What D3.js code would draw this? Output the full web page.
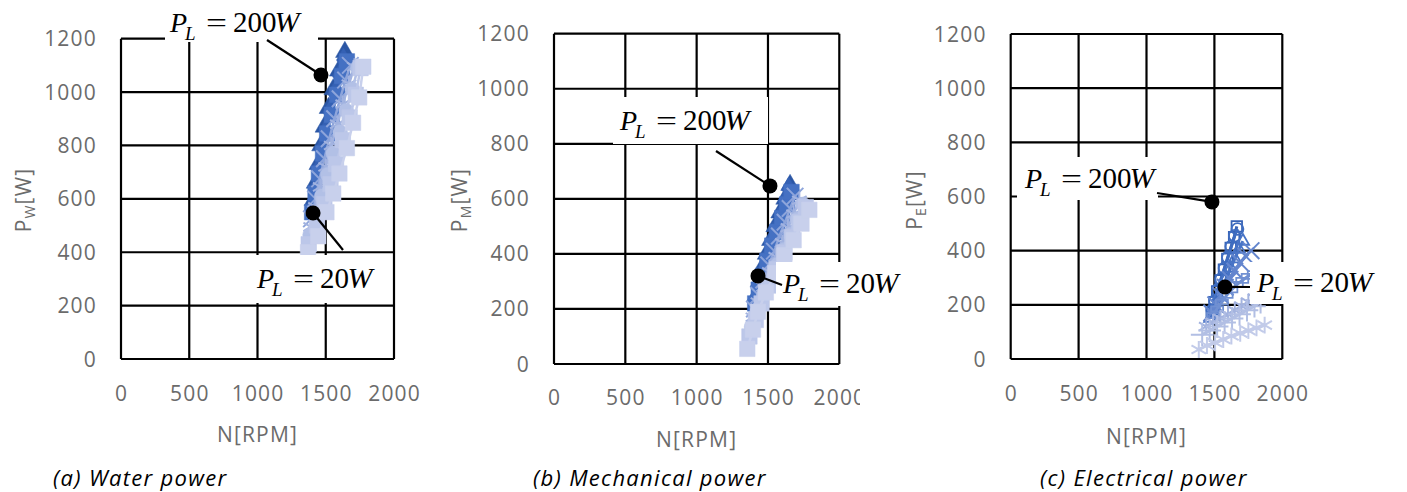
<!DOCTYPE html>
<html><head><meta charset="utf-8">
<script src="https://cdn.jsdelivr.net/npm/d3@7"></script>
<style>
body{margin:0;background:#fff;}
svg text{font-family:"Open Sans",sans-serif;}
</style></head><body>
<svg id="c" width="1407" height="492"></svg>
<script>
// ---------------- data ----------------
const xTicks = [0, 500, 1000, 1500, 2000];
const yTicks = [0, 200, 400, 600, 800, 1000, 1200];
const seriesNames = ["S1", "S2", "S3", "S4", "S5", "S6", "S7", "S8"];

// (a) water power
const waterN = [
  [1410,1425,1445,1465,1490,1520,1555,1595,1640],
  [1405,1425,1445,1470,1500,1530,1565,1600,1630],
  [1400,1425,1450,1480,1510,1545,1585,1620,1655],
  [1395,1425,1455,1490,1525,1565,1605,1645,1680],
  [1390,1425,1460,1500,1540,1585,1625,1670,1710],
  [1385,1430,1470,1515,1555,1605,1650,1695,1735],
  [1375,1435,1490,1535,1575,1625,1675,1720,1755],
  [1370,1445,1505,1555,1600,1655,1700,1745,1775]
];
const waterP = [
  [595,660,730,800,870,940,1010,1080,1150],
  [570,640,710,785,855,925,995,1060,1120],
  [550,620,695,770,845,915,990,1060,1115],
  [525,600,675,750,825,900,975,1045,1100],
  [495,570,645,720,800,880,955,1030,1095],
  [465,535,610,690,770,850,930,1010,1090],
  [430,500,580,655,730,820,905,990,1090],
  [400,460,550,620,695,790,885,980,1095]
];
// (b) mechanical power
const mechN = [
  [1420,1440,1460,1490,1520,1550,1585,1620,1655],
  [1415,1435,1460,1490,1520,1555,1590,1620,1645],
  [1410,1435,1465,1495,1530,1565,1600,1635,1665],
  [1405,1435,1470,1505,1545,1580,1620,1655,1690],
  [1395,1430,1470,1510,1555,1600,1640,1680,1720],
  [1385,1425,1470,1520,1565,1615,1660,1705,1745],
  [1370,1415,1455,1505,1560,1615,1670,1720,1765],
  [1355,1395,1430,1485,1550,1615,1680,1735,1790]
];
const mechP = [
  [250,300,350,400,450,500,550,600,650],
  [235,285,335,385,440,490,540,590,635],
  [220,270,320,375,430,480,530,580,625],
  [200,250,305,360,410,465,515,565,610],
  [170,225,280,335,390,440,495,545,595],
  [135,190,250,305,360,415,470,525,580],
  [100,160,220,285,345,405,460,515,570],
  [55,125,190,260,330,395,450,510,560]
];
// (c) electrical power
const elecN = [
  [1480,1500,1520,1545,1570,1595,1620,1645,1665],
  [1485,1505,1525,1550,1575,1600,1625,1650,1670],
  [1470,1500,1530,1560,1590,1620,1650,1680,1710],
  [1480,1510,1545,1580,1615,1650,1690,1730,1770],
  [1490,1520,1555,1590,1625,1665,1705,1745,1790],
  [1440,1490,1545,1600,1650,1700,1750,1800,1850],
  [1410,1465,1520,1575,1630,1685,1740,1795,1840],
  [1385,1445,1505,1565,1625,1690,1750,1810,1870]
];
const elecP = [
  [170,210,250,290,330,370,410,450,490],
  [180,215,255,295,335,375,415,455,480],
  [150,190,230,265,300,335,370,405,435],
  [170,200,235,265,295,325,355,380,400],
  [160,185,210,235,255,275,290,305,315],
  [120,135,150,165,180,195,210,225,240],
  [90,105,120,135,150,165,180,195,210],
  [35,50,60,72,85,95,105,115,125]
];
// annotation anchor points [N, P] for P_L = 200W and P_L = 20W
const annotLoads = ["200", "20"];
const waterMarks = [[1465,1064],[1407,547]];
const mechMarks  = [[1514,647],[1430,320]];
const elecMarks  = [[1482,580],[1578,266]];

// ---------------- styles ----------------
const colorsAB = ["#2B56A4","#3561B4","#4571C3","#8EA5DB","#A2B3E0","#B2C0E6","#BCC7E9","#C8D0EC"];
const shapesAB = ["triangle","diamond","square","times","asterisk","circle","square","square"];
const colorsC  = ["#3763B6","#3F6DC0","#4874C6","#6486CE","#7090D2","#A3B3DF","#B2BFE4","#C2CBE9"];
const shapesC  = ["square","circle","triangle","times","dash","asterisk","plus","asterisk"];

const svg = d3.select("#c");
const GREY = "#6b6b6b";

function symbolPath(shape, filled) {
  switch (shape) {
    case "triangle": return d3.symbol(filled ? d3.symbolTriangle : d3.symbolTriangle2, filled ? 150 : 110)();
    case "diamond":  return d3.symbol(d3.symbolDiamond, 170)();
    case "square":   return d3.symbol(filled ? d3.symbolSquare : d3.symbolSquare2, filled ? 240 : 140)();
    case "circle":   return d3.symbol(d3.symbolCircle, filled ? 170 : 110)();
    case "times":    return d3.symbol(d3.symbolTimes, 180)();
    case "asterisk": return d3.symbol(d3.symbolAsterisk, 200)();
    case "plus":     return d3.symbol(d3.symbolPlus, 170)();
    case "dash":     return "M-6,-2.5h12v5h-12z";
  }
}
const strokeOnly = s => ["times","asterisk","plus"].includes(s);

const panels = [
  {x0:121, x1:394, yT:38.7, yB:359, N:waterN, P:waterP, marks:waterMarks, sub:"W",
   colors:colorsAB, shapes:shapesAB, filled:true, xtY:401, xtitleY:442, titleX:31, caption:"(a) Water power", capX:53,
   boxes:[[165,4,153,38],[249,255,143,48]],
   leaders:[[267,40],[343,250]], labels:[[170,32],[257,288]], clip:null},
  {x0:554, x1:839.3, yT:33.7, yB:364, N:mechN, P:mechP, marks:mechMarks, sub:"M",
   colors:colorsAB, shapes:shapesAB, filled:true, xtY:405, xtitleY:447, titleX:467, caption:"(b) Mechanical power", capX:533,
   boxes:[[613,97,155,47],[776,262,136,44]],
   leaders:[[716,151],[782,285]], labels:[[620,130],[783,293]], clip:860},
  {x0:1010.7, x1:1282.3, yT:34, yB:359, N:elecN, P:elecP, marks:elecMarks, sub:"E",
   colors:colorsC, shapes:shapesC, filled:false, xtY:401, xtitleY:444, titleX:922, caption:"(c) Electrical power", capX:1040,
   boxes:[[1017,157,141,43],[1250,262,135,42]],
   leaders:[[1157,193],[1250,287]], labels:[[1025,188],[1257,292]], clip:null}
];

svg.append("defs").append("clipPath").attr("id","clipB")
  .append("rect").attr("x",0).attr("y",0).attr("width",860).attr("height",492);

function plLabel(g, x, y, num) {
  const t = g.append("text").style("font-family","'Liberation Serif','Times New Roman',serif")
    .attr("font-size",28).attr("fill","#000");
  t.append("tspan").attr("x",x).attr("y",y).attr("font-style","italic").text("P");
  t.append("tspan").attr("x",x+15).attr("y",y+8).attr("font-style","italic").attr("font-size",19).text("L");
  t.append("tspan").attr("x",x+36).attr("y",y).attr("textLength",21).attr("lengthAdjust","spacingAndGlyphs").text("=");
  t.append("tspan").attr("x",x+63).attr("y",y).attr("font-size",29).text(num);
  t.append("tspan").attr("x",x+62+num.length*14.2).attr("y",y).attr("font-style","italic")
    .attr("font-size",30).text("W");
}

panels.forEach(p => {
  const xs = d3.scaleLinear().domain([0,2000]).range([p.x0,p.x1]);
  const ys = d3.scaleLinear().domain([0,1200]).range([p.yB,p.yT]);
  const g = svg.append("g");

  // grid
  const grid = g.append("g").attr("stroke","#000").attr("stroke-width",2.2);
  xTicks.forEach(v => grid.append("line").attr("x1",xs(v)).attr("x2",xs(v)).attr("y1",ys(0)).attr("y2",ys(1200)));
  yTicks.forEach(v => grid.append("line").attr("x1",xs(0)).attr("x2",xs(2000)).attr("y1",ys(v)).attr("y2",ys(v)));

  // y tick labels
  yTicks.forEach(v => g.append("text").attr("x",p.x0-24).attr("y",ys(v)+7.5)
    .attr("text-anchor","end").attr("font-size",21).attr("letter-spacing",1.2).attr("fill",GREY).text(v));
  // x tick labels
  const xtg = g.append("g");
  if (p.clip) xtg.attr("clip-path","url(#clipB)");
  xTicks.forEach(v => xtg.append("text").attr("x",xs(v)+0.6).attr("y",p.xtY)
    .attr("text-anchor","middle").attr("font-size",21).attr("letter-spacing",1.2).attr("fill",GREY).text(v));
  // axis titles
  g.append("text").attr("x",(p.x0+p.x1)/2).attr("y",p.xtitleY).attr("text-anchor","middle")
    .attr("font-size",21).attr("letter-spacing",1.2).attr("fill",GREY).text("N[RPM]");
  const yt = g.append("text").attr("transform",`translate(${p.titleX},200) rotate(-90)`)
    .attr("text-anchor","middle").attr("font-size",21).attr("letter-spacing",1.2).attr("fill",GREY);
  yt.append("tspan").text("P");
  yt.append("tspan").attr("font-size",14).attr("dy",4).text(p.sub);
  yt.append("tspan").attr("dy",-4).text("[W]");
  // caption
  g.append("text").attr("x",p.capX).attr("y",486).attr("font-size",22).attr("font-style","italic")
    .attr("letter-spacing",1.3).attr("fill","#000").text(p.caption);

  // series
  const line = d3.line().x(d => xs(d[0])).y(d => ys(d[1]));
  seriesNames.forEach((name, i) => {
    const pts = p.N[i].map((n, j) => [n, p.P[i][j]]);
    const c = p.colors[i];
    const sg = g.append("g").attr("class","series").attr("data-name",name);
    sg.append("path").attr("d",line(pts)).attr("fill","none").attr("stroke",c)
      .attr("stroke-width",p.filled ? 2.5 : 3).attr("stroke-linejoin","round");
    const shape = p.shapes[i];
    const path = symbolPath(shape, p.filled);
    sg.selectAll("path.m").data(pts).join("path").attr("class","m").attr("d",path)
      .attr("transform",d => `translate(${xs(d[0])},${ys(d[1])})`)
      .attr("fill", (p.filled && !strokeOnly(shape)) ? c : "none")
      .attr("stroke", c).attr("stroke-width", strokeOnly(shape) ? 2 : (p.filled ? 0.5 : 1.8));
  });

  // annotations
  const ag = g.append("g");
  p.boxes.forEach(b => ag.append("rect").attr("x",b[0]).attr("y",b[1]).attr("width",b[2]).attr("height",b[3]).attr("fill","#fff"));
  p.marks.forEach((m, k) => {
    ag.append("line").attr("x1",p.leaders[k][0]).attr("y1",p.leaders[k][1])
      .attr("x2",xs(m[0])).attr("y2",ys(m[1])).attr("stroke","#000").attr("stroke-width",2.2);
    ag.append("circle").attr("cx",xs(m[0])).attr("cy",ys(m[1])).attr("r",7.5).attr("fill","#000");
    plLabel(ag, p.labels[k][0], p.labels[k][1], annotLoads[k]);
  });
});
</script>
</body></html>
